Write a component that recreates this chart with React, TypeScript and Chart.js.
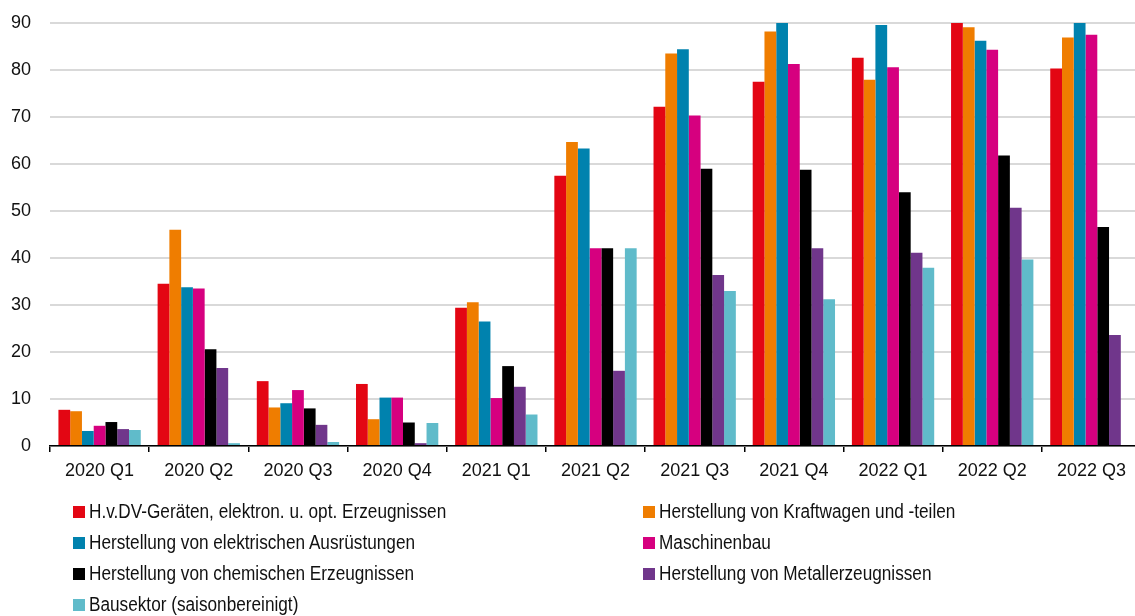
import React, { useEffect, useRef } from "react";
import { Chart, registerables } from "chart.js";

Chart.register(...registerables);

const categories = [
  "2020 Q1", "2020 Q2", "2020 Q3", "2020 Q4",
  "2021 Q1", "2021 Q2", "2021 Q3", "2021 Q4",
  "2022 Q1", "2022 Q2", "2022 Q3",
];

const seriesNames = [
  "H.v.DV-Geräten, elektron. u. opt. Erzeugnissen",
  "Herstellung von Kraftwagen und -teilen",
  "Herstellung von elektrischen Ausrüstungen",
  "Maschinenbau",
  "Herstellung von chemischen Erzeugnissen",
  "Herstellung von Metallerzeugnissen",
  "Bausektor (saisonbereinigt)",
];

const hvdv = [7.7, 34.5, 13.8, 13.2, 29.4, 57.5, 72.2, 77.5, 82.6, 91, 80.3];
const kraftwagen = [7.4, 46.0, 8.2, 5.7, 30.6, 64.7, 83.5, 88.2, 77.9, 89.1, 86.9];
const elektrisch = [3.2, 33.8, 9.1, 10.3, 26.5, 63.3, 84.4, 91, 89.6, 86.2, 91];
const maschinenbau = [4.3, 33.5, 11.9, 10.3, 10.2, 42.1, 70.3, 81.3, 80.6, 84.3, 87.5];
const chemisch = [5.1, 20.6, 8.0, 5.0, 17.0, 42.1, 59.0, 58.8, 54.0, 61.8, 46.6];
const metall = [3.6, 16.6, 4.5, 0.6, 12.6, 16.0, 36.4, 42.1, 41.1, 50.7, 23.6];
const bau = [3.4, 0.6, 0.85, 4.9, 6.7, 42.1, 33.0, 31.2, 37.9, 39.7, null];

const seriesValues = [hvdv, kraftwagen, elektrisch, maschinenbau, chemisch, metall, bau];
const seriesColors = ["#e30613", "#ef7d00", "#0082ae", "#d6007f", "#000000", "#70368b", "#60bbca"];

const yTicks = [0, 10, 20, 30, 40, 50, 60, 70, 80, 90];

const FONT = "'Liberation Sans', Arial, sans-serif";

// legend layout: [column, row]
const legendPos = [
  [0, 0], [1, 0], [0, 1], [1, 1], [0, 2], [1, 2], [0, 3],
];

export default function App() {
  const ref = useRef<HTMLCanvasElement | null>(null);

  useEffect(() => {
    if (!ref.current) return;
    const chart = new Chart(ref.current, {
      type: "bar",
      data: {
        labels: categories,
        datasets: seriesNames.map((name, i) => ({
          label: name,
          data: seriesValues[i],
          backgroundColor: seriesColors[i],
          borderWidth: 0,
          categoryPercentage: 0.83,
          barPercentage: 1,
        })),
      },
      options: {
        responsive: false,
        animation: false,
        devicePixelRatio: 1,
        layout: { padding: { top: 23, left: 0, right: 0, bottom: 0 } },
        plugins: {
          legend: { display: false },
          tooltip: { enabled: false },
        },
        scales: {
          x: {
            offset: true,
            grid: {
              offset: true,
              drawOnChartArea: false,
              drawTicks: true,
              tickLength: 6,
              color: "#000",
              lineWidth: 1.5,
            },
            border: { display: true, color: "#000", width: 1.5 },
            ticks: {
              color: "#111",
              font: { family: FONT, size: 18 },
              padding: 8,
              maxRotation: 0,
              autoSkip: false,
            },
            afterFit: (scale: any) => {
              scale.height = 170;
              scale.paddingLeft = 0;
              scale.paddingRight = 0;
            },
          },
          y: {
            min: 0,
            max: 90,
            afterBuildTicks: (scale: any) => {
              scale.ticks = yTicks.map((v) => ({ value: v }));
            },
            grid: {
              color: "#d9d9d9",
              lineWidth: 2,
              drawTicks: false,
            },
            border: { display: false },
            ticks: {
              color: "#111",
              font: { family: FONT, size: 18 },
              padding: 19,
            },
            afterFit: (scale: any) => {
              scale.width = 50;
              scale.paddingTop = 0;
              scale.paddingBottom = 0;
            },
          },
        },
      },
    });
    return () => chart.destroy();
  }, []);

  return (
    <div
      style={{
        position: "absolute",
        top: 0,
        left: 0,
        width: 1135,
        height: 616,
        overflow: "hidden",
        background: "#fff",
      }}
    >
      <canvas ref={ref} width={1141} height={616} style={{ width: 1141, height: 616, display: "block" }} />
      {seriesNames.map((name, i) => {
        const [col, row] = legendPos[i];
        const left = col === 0 ? 73 : 643;
        const top = 496 + row * 31;
        return (
          <div
            key={name}
            style={{
              position: "absolute",
              left,
              top,
              height: 31,
              display: "flex",
              alignItems: "center",
              fontFamily: FONT,
              fontSize: 20,
              color: "#111",
              whiteSpace: "nowrap",
            }}
          >
            <span
              style={{
                display: "inline-block",
                width: 12,
                height: 12,
                background: seriesColors[i],
                marginRight: 4,
              }}
            />
            <span
              style={{
                lineHeight: "31px",
                display: "inline-block",
                transform: "scaleX(0.86)",
                transformOrigin: "left center",
              }}
            >
              {name}
            </span>
          </div>
        );
      })}
    </div>
  );
}
